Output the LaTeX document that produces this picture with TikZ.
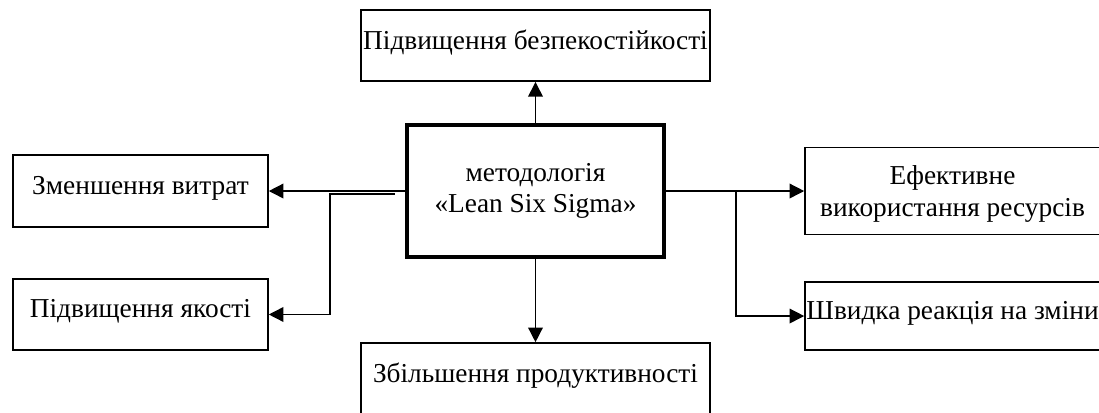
\documentclass[tikz,border=0pt]{standalone}
\usepackage{fontspec}
\setmainfont{Liberation Serif}
\usetikzlibrary{positioning, arrows.meta}

\begin{document}
\begin{tikzpicture}[->, >={Triangle[length=11pt, width=11pt]}, on grid, line width=1.1pt,
    font=\fontsize{20.5}{23.5}\selectfont,
    block/.style={draw, rectangle, inner sep=0pt, align=center, line width=1.2pt},
    lineblock/.style={block, text depth=9pt},
    mainblock/.style={block, line width=3pt, minimum width=192.75pt, minimum height=99pt}]
  \useasboundingbox (-401.6pt,143.25pt) rectangle (422.6pt,-165.75pt);
  \clip (-401.6pt,143.25pt) rectangle (422.6pt,-165.75pt);
  \node[mainblock] (lss) {методологія\\«Lean Six Sigma»};
  \node[lineblock, minimum width=261.75pt, minimum height=53.25pt, above=109pt of lss] (safe) {Підвищення безпекостійкості};
  \node[lineblock, minimum width=261.75pt, minimum height=53.25pt, below=140.6pt of lss] (prod) {Збільшення продуктивності};
  \node[lineblock, minimum width=191.25pt, minimum height=54pt, left=296.25pt of lss] (cost) {Зменшення витрат};
  \node[lineblock, minimum width=191.25pt, minimum height=53.25pt, below left=92.6pt and 296.25pt of lss] (qual) {Підвищення якості};
  \node[block, text depth=0pt, minimum width=221.25pt, minimum height=65.25pt, right=312.75pt of lss] (eff) {Ефективне\\використання ресурсів};
  \node[lineblock, minimum width=221.25pt, minimum height=51pt, below right=93.75pt and 312.75pt of lss] (fast) {Швидка реакція на зміни};
  \coordinate[below left=2.25pt and 7.5pt of lss.west] (ljoin);
  \coordinate[right=52.5pt of lss.east] (rjoin);
  \draw (lss.north) -- (lss.north |- safe.south);
  \draw (lss.south) -- (lss.south |- prod.north);
  \draw (lss.west) -- (cost.east);
  \draw (ljoin) -- ++(-48.75pt,0) |- (qual.east);
  \draw (lss.east) -- (eff.west);
  \draw (rjoin) |- (fast.west);
\end{tikzpicture}
\end{document}
